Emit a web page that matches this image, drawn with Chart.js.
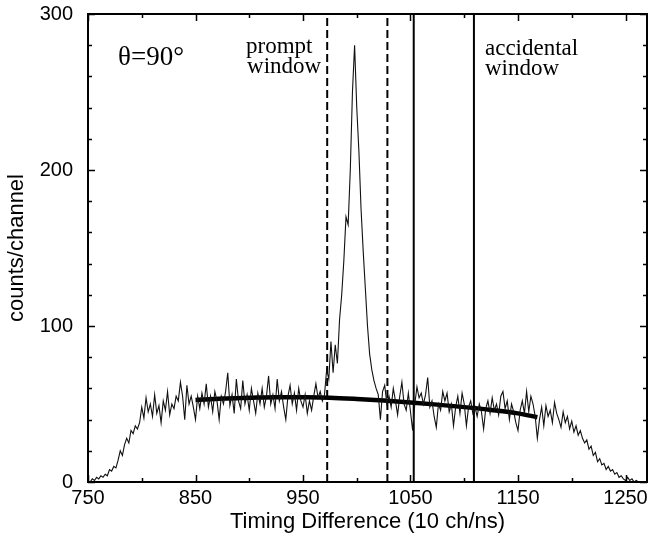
<!DOCTYPE html>
<html>
<head>
<meta charset="utf-8">
<script src="https://cdn.jsdelivr.net/npm/chart.js@4.4.1/dist/chart.umd.min.js"></script>
<style>
  html, body { margin: 0; padding: 0; background: #ffffff; }
  #c { display: block; }
</style>
</head>
<body>
<canvas id="c" width="649" height="539"></canvas>
<script>
// ---------------- DATA ----------------
// Histogram: counts per channel, read every 2 channels starting at channel 752
const firstChannel = 752;
const channelStep = 2;
const counts = [
  0, 2, 1, 3, 2, 4, 3, 5, 4, 8,            // 752-770
  7, 10, 9, 14, 20, 17, 24, 28, 25, 33,    // 772-790
  31, 36, 34, 38, 48, 41, 54, 45, 50, 42,  // 792-810
  56, 44, 49, 38, 52, 46, 58, 43, 50, 47,  // 812-830
  55, 52, 64, 55, 40, 62, 50, 55, 48, 40,  // 832-850
  55, 47, 57, 50, 63, 48, 55, 45, 58, 52,  // 852-870
  40, 55, 50, 58, 70, 49, 56, 44, 66, 52,  // 872-890
  47, 65, 50, 56, 46, 60, 52, 44, 57, 50,  // 892-910
  60, 48, 55, 68, 50, 56, 47, 66, 52, 58,  // 912-930
  48, 40, 55, 62, 50, 57, 46, 60, 52, 48,  // 932-950
  56, 44, 52, 46, 55, 63, 54, 58, 52, 56,  // 952-970
  72, 66, 90, 70, 88, 76, 104, 120, 142, 170, // 972-990
  165, 200, 250, 280, 240, 212, 175, 148, 124, 100, // 992-1010
  82, 72, 65, 60, 56, 40, 58, 62, 50, 55,  // 1012-1030
  48, 60, 52, 43, 55, 64, 50, 46, 57, 45,  // 1032-1050
  33, 50, 61, 54, 57, 50, 56, 67, 48, 52,  // 1052-1070
  42, 35, 50, 46, 58, 52, 57, 45, 50, 36,  // 1072-1090
  48, 55, 44, 57, 50, 36, 48, 52, 44, 48,  // 1092-1110
  42, 50, 45, 34, 47, 52, 44, 54, 46, 50,  // 1112-1130
  43, 55, 58, 47, 52, 40, 50, 45, 38, 33,  // 1132-1150
  46, 52, 44, 58, 45, 55, 50, 42, 28, 40,  // 1152-1170
  48, 36, 49, 42, 46, 38, 51, 44, 40, 35,  // 1172-1190
  45, 38, 42, 34, 39, 32, 36, 30, 33, 28,  // 1192-1210
  25, 27, 21, 23, 17, 19, 13, 15, 11, 12,  // 1212-1230
  8, 10, 7, 8, 5, 6, 3, 4, 2, 1,           // 1232-1250
  3, 1, 2, 0, 1, 0, 0                      // 1252-1264
];

// Smooth background fit (thick curve)
const fitChannels = [850, 875, 900, 925, 950, 975, 1000, 1025, 1050, 1075, 1100, 1125, 1150, 1168];
const fitCounts   = [52.5, 53.5, 54, 54.4, 54.3, 54, 53.2, 52.2, 51, 49.6, 48, 46.2, 44, 41.5];

// Window edges (channels)
const promptWindow = [972.5, 1028.5];
const accidentalWindow = [1053, 1109];

// Axis tick labels
const xTickLabels = [750, 850, 950, 1050, 1150, 1250];
const yTickLabels = [0, 100, 200, 300];
const xMinorStep = 50;
const yMinorStep = 20;

// ---------------- BUILD ----------------
const histPoints = counts.map((v, i) => ({ x: firstChannel + channelStep * i, y: v }));
const fitPoints = fitChannels.map((c, i) => ({ x: c, y: fitCounts[i] }));
function vline(x, dashed) {
  return {
    data: [{ x: x, y: 0 }, { x: x, y: 300 }],
    borderColor: '#000',
    borderWidth: 2,
    borderDash: dashed ? [8, 4] : [],
    pointRadius: 0,
    fill: false
  };
}

const framePlugin = {
  id: 'frame',
  afterDraw(chart) {
    const { ctx, chartArea: a, scales: { x, y } } = chart;
    ctx.save();
    ctx.strokeStyle = '#000';
    ctx.lineWidth = 2;
    ctx.strokeRect(a.left, a.top, a.right - a.left, a.bottom - a.top);
    ctx.lineWidth = 1.5;
    for (let v = x.min; v <= x.max + 1e-6; v += xMinorStep) {
      const px = Math.round(x.getPixelForValue(v)) + 0.5;
      const major = xTickLabels.includes(v);
      const len = major ? 7 : 4;
      ctx.beginPath();
      ctx.moveTo(px, a.bottom); ctx.lineTo(px, a.bottom - len);
      ctx.moveTo(px, a.top); ctx.lineTo(px, a.top + len);
      ctx.stroke();
    }
    for (let v = y.min; v <= y.max + 1e-6; v += yMinorStep) {
      const py = Math.round(y.getPixelForValue(v)) + 0.5;
      const major = yTickLabels.includes(v);
      const len = major ? 7 : 4;
      ctx.beginPath();
      ctx.moveTo(a.left, py); ctx.lineTo(a.left + len, py);
      ctx.moveTo(a.right, py); ctx.lineTo(a.right - len, py);
      ctx.stroke();
    }
    ctx.restore();
  }
};

const textPlugin = {
  id: 'labels',
  afterDatasetsDraw(chart) {
    const { ctx, scales: { x, y } } = chart;
    ctx.save();
    ctx.fillStyle = '#000';
    ctx.textBaseline = 'alphabetic';
    ctx.textAlign = 'left';
    ctx.font = '27px "Liberation Serif", "Times New Roman", serif';
    ctx.fillText('θ=90°', x.getPixelForValue(778), y.getPixelForValue(267.3));
    ctx.font = '23px "Liberation Serif", "Times New Roman", serif';
    ctx.fillText('prompt', x.getPixelForValue(897), y.getPixelForValue(275));
    ctx.fillText('window', x.getPixelForValue(898), y.getPixelForValue(262.2));
    ctx.fillText('accidental', x.getPixelForValue(1119.3), y.getPixelForValue(273.7));
    ctx.fillText('window', x.getPixelForValue(1119.3), y.getPixelForValue(260.9));
    ctx.restore();
  }
};

const bg = {
  id: 'bg',
  beforeDraw(chart) {
    const { ctx, width, height } = chart;
    ctx.save(); ctx.fillStyle = '#fff'; ctx.fillRect(0, 0, width, height); ctx.restore();
  }
};

const tickFont = { family: '"Liberation Sans", Arial, sans-serif', size: 20 };
const titleFont = { family: '"Liberation Sans", Arial, sans-serif', size: 22 };

new Chart(document.getElementById('c'), {
  type: 'line',
  data: {
    datasets: [
      { data: histPoints, borderColor: '#111', borderWidth: 1.1, pointRadius: 0, fill: false, tension: 0 },
      { data: fitPoints, borderColor: '#000', borderWidth: 4.5, pointRadius: 0, fill: false, cubicInterpolationMode: 'monotone' },
      vline(promptWindow[0], true),
      vline(promptWindow[1], true),
      vline(accidentalWindow[0], false),
      vline(accidentalWindow[1], false)
    ]
  },
  options: {
    responsive: false,
    animation: false,
    devicePixelRatio: 1,
    layout: { padding: { top: 14, right: 2, left: 0, bottom: 0 } },
    plugins: { legend: { display: false }, tooltip: { enabled: false } },
    scales: {
      x: {
        type: 'linear',
        min: 750, max: 1270,
        grid: { display: false, drawTicks: false },
        border: { display: false },
        afterBuildTicks: s => { s.ticks = xTickLabels.map(v => ({ value: v })); },
        afterFit: s => { s.height = 57; s.paddingLeft = 0; s.paddingRight = 0; },
        ticks: { color: '#000', padding: 4, maxRotation: 0, autoSkip: false,
                 callback: v => String(v), font: tickFont },
        title: { display: true, text: 'Timing Difference (10 ch/ns)', color: '#000',
                 padding: { top: 4, bottom: 4 }, font: titleFont }
      },
      y: {
        type: 'linear',
        min: 0, max: 300,
        grid: { display: false, drawTicks: false },
        border: { display: false },
        afterBuildTicks: s => { s.ticks = yTickLabels.map(v => ({ value: v })); },
        afterFit: s => { s.width = 88; s.paddingTop = 0; s.paddingBottom = 0; },
        ticks: { color: '#000', padding: 15, autoSkip: false,
                 callback: v => String(v), font: tickFont },
        title: { display: true, text: 'counts/channel', color: '#000',
                 padding: { top: 4, bottom: 4 }, font: titleFont }
      }
    }
  },
  plugins: [bg, textPlugin, framePlugin]
});
</script>
</body>
</html>
